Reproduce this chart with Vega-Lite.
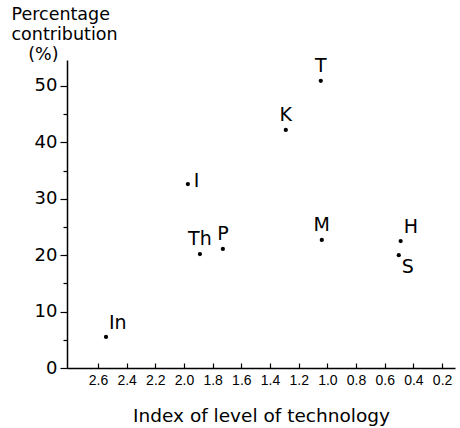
{
  "$schema": "https://vega.github.io/schema/vega-lite/v6.json",
  "width": 388,
  "height": 308,
  "autosize": "none",
  "padding": {"left": 67, "top": 60, "right": 5, "bottom": 60},
  "config": {
    "view": {"stroke": null},
    "font": "DejaVu Sans",
    "axis": {"grid": false, "domainColor": "black", "tickColor": "black", "labelColor": "black", "titleColor": "black", "domainWidth": 1.5, "tickWidth": 1.2, "titleFontWeight": "normal"}
  },
  "data": {"values": [
    {"country": "In", "index": 2.544, "pct": 5.5},
    {"country": "I", "index": 1.973, "pct": 32.6},
    {"country": "Th", "index": 1.889, "pct": 20.2},
    {"country": "P", "index": 1.729, "pct": 21.1},
    {"country": "T", "index": 1.046, "pct": 50.9},
    {"country": "K", "index": 1.29, "pct": 42.2},
    {"country": "M", "index": 1.039, "pct": 22.7},
    {"country": "H", "index": 0.489, "pct": 22.5},
    {"country": "S", "index": 0.502, "pct": 20.0}
  ]},
  "encoding": {
    "x": {"field": "index", "type": "quantitative",
      "scale": {"domain": [0.11, 2.816], "reverse": true, "nice": false, "zero": false},
      "axis": {"values": [0.2, 0.4, 0.6, 0.8, 1.0, 1.2, 1.4, 1.6, 1.8, 2.0, 2.2, 2.4, 2.6], "format": ".1f", "tickSize": -5, "labelPadding": 10, "labelFont": "Liberation Sans", "labelFontSize": 14, "title": "Index of level of technology", "titleFontSize": 18.5, "titlePadding": 19}},
    "y": {"field": "pct", "type": "quantitative",
      "scale": {"domain": [0, 54.6], "nice": false},
      "axis": {"values": [0, 5, 10, 15, 20, 25, 30, 35, 40, 45, 50],
        "labelExpr": "datum.value % 10 === 0 ? datum.label : ''",
        "tickSize": {"expr": "datum.value % 10 === 0 ? 7 : 4"},
        "labelFontSize": 18, "labelPadding": 3,
        "title": ["Percentage", "contribution", "\u200b\u00a0\u00a0\u00a0(%)"],
        "titleAngle": 0, "titleAlign": "left", "titleBaseline": "top", "titleX": -56, "titleY": -55, "titleFontSize": 17.5, "titleLineHeight": 20}}
  },
  "layer": [
    {"mark": {"type": "point", "filled": true, "size": 18, "color": "black", "opacity": 1}},
    {"transform": [{"filter": "indexof(['T','K','M','P','Th'], datum.country) >= 0"}],
     "mark": {"type": "text", "fontSize": 19, "align": "center", "baseline": "alphabetic", "dy": -9, "color": "black"},
     "encoding": {"text": {"field": "country"}}},
    {"transform": [{"filter": "indexof(['In','H'], datum.country) >= 0"}],
     "mark": {"type": "text", "fontSize": 19, "align": "left", "baseline": "alphabetic", "dx": 3, "dy": -8, "color": "black"},
     "encoding": {"text": {"field": "country"}}},
    {"transform": [{"filter": "datum.country === 'I'"}],
     "mark": {"type": "text", "fontSize": 19, "align": "left", "baseline": "alphabetic", "dx": 6, "dy": 3, "color": "black"},
     "encoding": {"text": {"field": "country"}}},
    {"transform": [{"filter": "datum.country === 'S'"}],
     "mark": {"type": "text", "fontSize": 19, "align": "left", "baseline": "alphabetic", "dx": 3, "dy": 18, "color": "black"},
     "encoding": {"text": {"field": "country"}}}
  ]
}
